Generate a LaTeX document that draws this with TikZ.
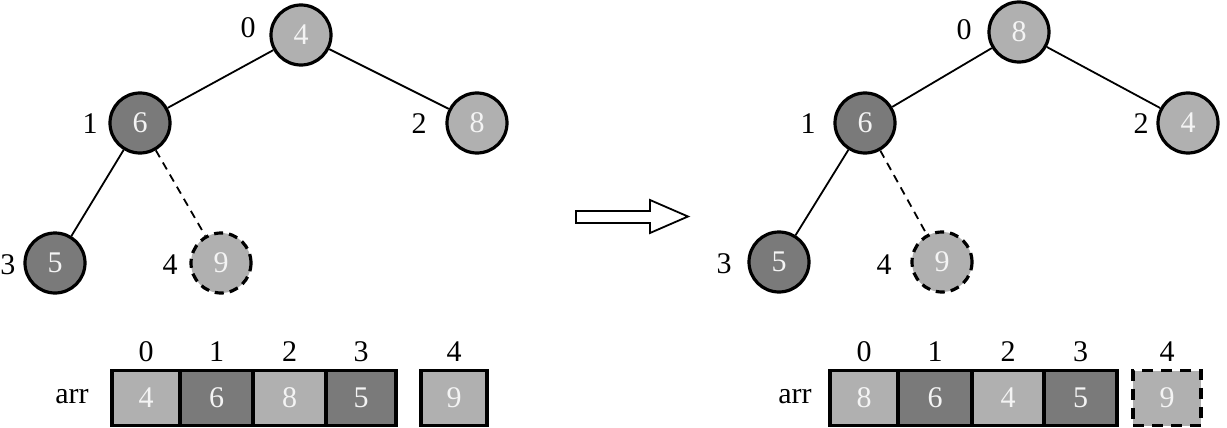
\documentclass[tikz,border=0pt]{standalone}
\usepackage{fontspec}
\setmainfont{Liberation Serif}
\definecolor{lg}{HTML}{B0B0B0}
\definecolor{dg}{HTML}{7A7A7A}
\definecolor{tw}{HTML}{F4F4F4}
\tikzset{
  hn/.style={circle,draw=black,line width=3.2pt,minimum size=60pt,inner sep=0pt,text=tw,font=\fontsize{30}{30}\selectfont},
  hl/.style={hn,fill=lg},
  hd/.style={hn,fill=dg},
  hx/.style={hn,fill=lg,dashed,dash pattern=on 9pt off 6pt},
  idx/.style={font=\fontsize{30}{30}\selectfont,inner sep=0pt},
  edge/.style={line width=1.8pt},
  cell/.style={draw=black,line width=3.2pt,minimum height=55pt,inner sep=0pt,text=tw,font=\fontsize{30}{30}\selectfont},
}
\begin{document}
\begin{tikzpicture}[x=1pt,y=-1pt]
\useasboundingbox (0,0) rectangle (1227,428);
% left tree
\node[hl] (a0) at (301,35) {4};
\node[hd] (a1) at (140,123) {6};
\node[hl] (a2) at (477,123) {8};
\node[hd] (a3) at (55,263) {5};
\node[hx] (a4) at (221,263) {9};
\node[idx] (la0) at (248,28) {0};
\node[idx] (la1) at (90,124) {1};
\node[idx] (la2) at (419,124) {2};
\node[idx] (la3) at (8,265) {3};
\node[idx] (la4) at (170,265) {4};
\draw[edge] (a0) -- (a1);
\draw[edge] (a0) -- (a2);
\draw[edge] (a1) -- (a3);
\draw[edge,dashed,dash pattern=on 8pt off 6pt] (a1) -- (a4);
% right tree
\node[hl] (b0) at (1019,32) {8};
\node[hd] (b1) at (865,123) {6};
\node[hl] (b2) at (1188,123) {4};
\node[hd] (b3) at (779,262) {5};
\node[hx] (b4) at (942,262) {9};
\node[idx] (lb0) at (964,30) {0};
\node[idx] (lb1) at (808,124) {1};
\node[idx] (lb2) at (1141,124) {2};
\node[idx] (lb3) at (724,264) {3};
\node[idx] (lb4) at (884,265) {4};
\draw[edge] (b0) -- (b1);
\draw[edge] (b0) -- (b2);
\draw[edge] (b1) -- (b3);
\draw[edge,dashed,dash pattern=on 8pt off 6pt] (b1) -- (b4);
% arrow
\draw[line width=1.8pt,fill=white] (576,211) -- (650,211) -- (650,200) -- (688,216.5) -- (650,233) -- (650,223) -- (576,223) -- cycle;
% left array
\node[idx] (arrl) at (72,397) {arr};
\node[cell,fill=lg,minimum width=68pt] (c0) at (146,398) {4};
\node[cell,fill=dg,minimum width=73pt] (c1) at (216.5,398) {6};
\node[cell,fill=lg,minimum width=73pt] (c2) at (289.5,398) {8};
\node[cell,fill=dg,minimum width=70pt] (c3) at (361,398) {5};
\node[cell,fill=lg,minimum width=66pt] (c4) at (454,398) {9};
\node[idx] (ci0) at (146,352) {0};
\node[idx] (ci1) at (216.5,352) {1};
\node[idx] (ci2) at (289.5,352) {2};
\node[idx] (ci3) at (361,352) {3};
\node[idx] (ci4) at (454,352) {4};
% right array
\node[idx] (arrr) at (795,397) {arr};
\node[cell,fill=lg,minimum width=68pt] (d0) at (864,398) {8};
\node[cell,fill=dg,minimum width=74pt] (d1) at (935,398) {6};
\node[cell,fill=lg,minimum width=72pt] (d2) at (1008,398) {4};
\node[cell,fill=dg,minimum width=73pt] (d3) at (1080.5,398) {5};
\node[cell,fill=lg,minimum width=68pt,dashed,dash pattern=on 11pt off 8pt] (d4) at (1167,398) {9};
\node[idx] (di0) at (864,352) {0};
\node[idx] (di1) at (935,352) {1};
\node[idx] (di2) at (1008,352) {2};
\node[idx] (di3) at (1080.5,352) {3};
\node[idx] (di4) at (1167,352) {4};
\end{tikzpicture}
\end{document}
